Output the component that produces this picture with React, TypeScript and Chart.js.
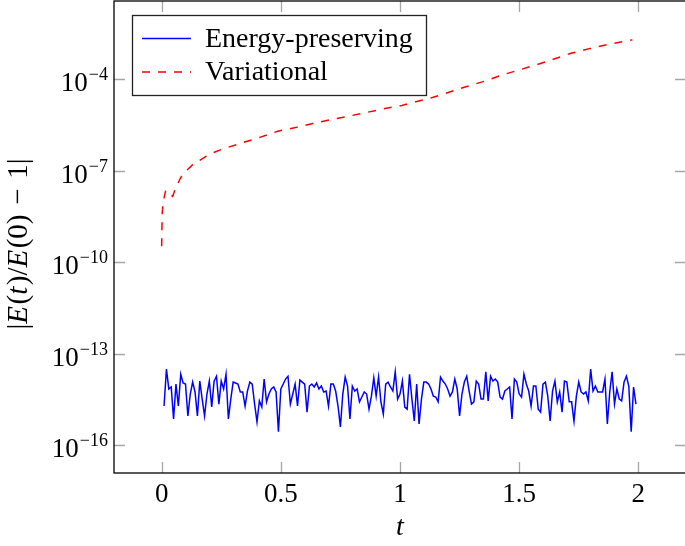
import React, { useEffect, useRef } from 'react';
import { Chart, registerables } from 'chart.js';

Chart.register(...registerables);

// ---------------- data ----------------
const seriesLabels = ['Energy-preserving', 'Variational'];

// energy-preserving scheme: samples every 0.01 starting at t = 0.01
const energyT0 = 0.01;
const energyDt = 0.01;
const energyValues = [
  1.9e-15, 3.1e-14, 6.9e-15, 8.0e-15, 7.1e-16, 1.0e-14, 1.9e-15, 2.1e-14, 1.08e-14, 1.0e-14,
  8.9e-16, 4.7e-15, 1.16e-14, 5.5e-15, 8.9e-16, 1.25e-14, 3.2e-15, 8.9e-16, 4.7e-15, 1.25e-14,
  1.76e-15, 1.25e-14, 1.8e-14, 2.2e-15, 1.25e-14, 6.9e-15, 2.1e-14, 7.1e-16, 3.2e-15, 1.16e-14,
  1.08e-14, 1.0e-14, 5.5e-15, 5.5e-15, 1.9e-15, 5.9e-15, 1.16e-14, 1.0e-14, 2.2e-15, 5.7e-16,
  2.8e-15, 1.76e-15, 1.46e-14, 2.6e-15, 4.7e-15, 6.9e-15, 8.0e-15, 5.5e-15, 2.7e-16, 6.9e-15,
  1.0e-14, 1.46e-14, 1.8e-14, 2.2e-15, 4.7e-15, 1.0e-14, 1.9e-15, 1.35e-14, 1.16e-14, 1.0e-14,
  1.2e-15, 8.6e-15, 1.0e-14, 8.0e-15, 1.08e-14, 6.9e-15, 8.6e-15, 5.5e-15, 5.9e-15, 1.9e-15,
  1.0e-14, 1.0e-14, 5.9e-15, 1.9e-15, 3.9e-16, 4.7e-15, 1.7e-14, 8.6e-15, 7.1e-16, 8.6e-15,
  5.9e-15, 6.9e-15, 2.6e-15, 3.75e-15, 5.5e-15, 4.7e-15, 1.5e-15, 4.0e-15, 1.6e-14, 4.0e-15,
  1.7e-14, 2.6e-15, 1.04e-15, 1.0e-14, 1.16e-14, 8.0e-15, 5.9e-15, 2.5e-14, 3.2e-15, 4.7e-15,
  1.25e-14, 1.76e-15, 1.5e-15, 2.1e-14, 3.2e-15, 6.1e-16, 1.0e-14, 4.9e-16, 3.2e-15, 1.16e-14,
  1.16e-14, 1.0e-14, 6.9e-15, 4.0e-15, 3.75e-15, 2.6e-15, 1.7e-14, 1.25e-14, 1.0e-14, 6.9e-15,
  4.0e-15, 5.5e-15, 1.46e-14, 6.9e-15, 8.9e-16, 4.7e-15, 1.16e-14, 1.8e-14, 5.9e-15, 2.2e-15,
  2.6e-15, 1.25e-14, 1.0e-14, 3.2e-15, 3.2e-15, 2.5e-14, 2.8e-15, 1.8e-14, 1.25e-14, 1.46e-14,
  1.16e-14, 3.75e-15, 3.2e-15, 5.9e-15, 6.9e-15, 8.0e-15, 7.1e-16, 1.46e-14, 1.16e-14, 4.7e-15,
  3.75e-15, 2.1e-14, 1.0e-14, 5.9e-15, 1.9e-15, 8.6e-15, 8.6e-15, 1.5e-15, 1.2e-15, 1.0e-14,
  1.16e-14, 4.0e-15, 6.1e-16, 5.9e-15, 1.25e-14, 2.6e-15, 5.5e-15, 1.2e-15, 1.25e-14, 1.16e-14,
  2.6e-15, 2.6e-15, 6.1e-16, 4.0e-15, 1.16e-14, 5.5e-15, 4.7e-15, 5.5e-15, 2.8e-15, 3.1e-14,
  5.9e-15, 8.6e-15, 5.5e-15, 5.5e-15, 5.5e-15, 1.46e-14, 4.9e-16, 5.5e-15, 2.5e-14, 2.2e-15,
  6.9e-15, 3.2e-15, 2.8e-15, 1.16e-14, 1.8e-14, 8.6e-15, 2.7e-16, 8.0e-15, 2.2e-15,
];

// variational scheme
const variationalT = [
  0, 0.002, 0.006, 0.017, 0.025, 0.046, 0.055, 0.076, 0.088, 0.13,
  0.2, 0.252, 0.328, 0.412, 0.487, 0.567, 0.634, 0.714, 0.782, 0.861,
  0.937, 1.008, 1.071, 1.139, 1.28, 1.366, 1.42, 1.504, 1.576, 1.643,
  1.714, 1.798, 1.87, 1.975,
];
const variationalValues = [
  3.35e-10, 3.7e-9, 9.3e-9, 2.3e-8, 2.0e-8, 1.45e-8, 2.3e-8, 5.2e-8, 7.8e-8, 1.6e-7,
  3.5e-7, 5.1e-7, 7.9e-7, 1.26e-6, 2.0e-6, 2.7e-6, 3.6e-6, 4.9e-6, 6.2e-6, 8.3e-6,
  1.12e-5, 1.41e-5, 1.9e-5, 2.6e-5, 5.9e-5, 9.3e-5, 1.35e-4, 2.1e-4, 3.1e-4, 4.6e-4,
  7.1e-4, 1.05e-3, 1.41e-3, 2.0e-3,
];

const xTicks = [0, 0.5, 1, 1.5, 2];
const xTickLabels = ['0', '0.5', '1', '1.5', '2'];
const yTickExponents = [-4, -7, -10, -13, -16];

const X_MIN = -0.2;
const X_MAX = 2.2;
const Y_MIN = 1.2e-17;
const Y_MAX = 3.78e-2;

// ---------------- styling ----------------
const FONT = '"Liberation Serif", "Times New Roman", serif';
const TICK_SIZE = 27;
const EXP_SIZE = 18;
const LEGEND_SIZE = 28;
const TITLE_SIZE = 29;
const TICK_COLOR = '#a6a6a6';
const TICK_LEN = 11;

const decorPlugin = {
  id: 'decor',
  afterDraw(chart: any) {
    const ctx: any = chart.ctx;
    const { left, right, top, bottom } = chart.chartArea;
    const xs = chart.scales.x;
    const ys = chart.scales.y;
    ctx.save();

    // inward ticks on all four sides
    ctx.strokeStyle = TICK_COLOR;
    ctx.lineWidth = 1.3;
    ctx.beginPath();
    xTicks.forEach((v) => {
      const px = Math.round(xs.getPixelForValue(v)) + 0.5;
      ctx.moveTo(px, bottom);
      ctx.lineTo(px, bottom - TICK_LEN);
      ctx.moveTo(px, top);
      ctx.lineTo(px, top + TICK_LEN);
    });
    yTickExponents.forEach((e) => {
      const py = Math.round(ys.getPixelForValue(Math.pow(10, e))) + 0.5;
      ctx.moveTo(left, py);
      ctx.lineTo(left + TICK_LEN, py);
      ctx.moveTo(right, py);
      ctx.lineTo(right - TICK_LEN, py);
    });
    ctx.stroke();

    // frame
    ctx.strokeStyle = '#000';
    ctx.lineWidth = 1.3;
    ctx.strokeRect(left, top, right - left, bottom - top);

    // x tick labels
    ctx.fillStyle = '#000';
    ctx.font = `${TICK_SIZE}px ${FONT}`;
    ctx.textAlign = 'center';
    ctx.textBaseline = 'alphabetic';
    xTicks.forEach((v, i) => {
      ctx.fillText(xTickLabels[i], xs.getPixelForValue(v), bottom + 29);
    });

    // y tick labels: 10^{e}
    ctx.textAlign = 'left';
    yTickExponents.forEach((e) => {
      const py = ys.getPixelForValue(Math.pow(10, e));
      const expText = '\u2212' + String(Math.abs(e));
      ctx.font = `${EXP_SIZE}px ${FONT}`;
      const wExp = ctx.measureText(expText).width;
      ctx.font = `${TICK_SIZE}px ${FONT}`;
      const wBase = ctx.measureText('10').width;
      const xRight = left - 6;
      const xBase = xRight - wExp - wBase - 1;
      ctx.fillText('10', xBase, py + 12);
      ctx.font = `${EXP_SIZE}px ${FONT}`;
      ctx.fillText(expText, xBase + wBase + 1, py + 1);
    });

    // x title
    ctx.font = `italic ${TICK_SIZE + 1}px ${FONT}`;
    ctx.textAlign = 'center';
    ctx.fillText('t', (left + right) / 2 + 0, bottom + 62);

    // y title (rotated)
    const parts: [string, boolean][] = [
      ['|', false], ['E', true], ['(', false], ['t', true], [')/', false],
      ['E', true], ['(0)\u2004\u2212\u20041|', false],
    ];
    let total = 0;
    const widths = parts.map(([s, it]) => {
      ctx.font = `${it ? 'italic ' : ''}${TITLE_SIZE}px ${FONT}`;
      const w = ctx.measureText(s).width + (it ? 1.5 : 0);
      total += w;
      return w;
    });
    ctx.save();
    ctx.translate(27, 244);
    ctx.rotate(-Math.PI / 2);
    ctx.textAlign = 'left';
    let cx = -total / 2;
    parts.forEach(([s, it], i) => {
      ctx.font = `${it ? 'italic ' : ''}${TITLE_SIZE}px ${FONT}`;
      ctx.fillText(s, cx, 0);
      cx += widths[i];
    });
    ctx.restore();

    // legend
    const lx = 132.5, ly = 15.5, lw = 294, lh = 80;
    ctx.fillStyle = '#fff';
    ctx.fillRect(lx, ly, lw, lh);
    ctx.strokeStyle = '#222';
    ctx.lineWidth = 1.3;
    ctx.strokeRect(lx, ly, lw, lh);
    const ds = chart.data.datasets;
    const rows = [38.5, 72];
    rows.forEach((ry, i) => {
      ctx.strokeStyle = ds[i].borderColor;
      ctx.lineWidth = ds[i].borderWidth;
      ctx.setLineDash(ds[i].borderDash || []);
      ctx.beginPath();
      ctx.moveTo(142, ry);
      ctx.lineTo(191, ry);
      ctx.stroke();
      ctx.setLineDash([]);
      ctx.fillStyle = '#000';
      ctx.font = `${LEGEND_SIZE}px ${FONT}`;
      ctx.textAlign = 'left';
      ctx.fillText(seriesLabels[i], 205, ry + 8);
    });

    ctx.restore();
  },
};

export default function App() {
  const canvasRef = useRef<HTMLCanvasElement | null>(null);

  useEffect(() => {
    const canvas = canvasRef.current;
    if (!canvas) return;
    const energyData = energyValues.map((v, i) => ({ x: energyT0 + i * energyDt, y: v }));
    const variationalData = variationalValues.map((v, i) => ({ x: variationalT[i], y: v }));
    const chart = new Chart(canvas, {
      type: 'line',
      data: {
        datasets: [
          {
            label: seriesLabels[0],
            data: energyData,
            borderColor: '#0000ff',
            borderWidth: 1.5,
            pointRadius: 0,
            tension: 0,
            fill: false,
          },
          {
            label: seriesLabels[1],
            data: variationalData,
            borderColor: '#ff0000',
            borderWidth: 1.5,
            borderDash: [8, 8],
            pointRadius: 0,
            tension: 0,
            fill: false,
          },
        ],
      },
      options: {
        animation: false,
        responsive: false,
        devicePixelRatio: 1,
        parsing: false as any,
        layout: { padding: { left: 114, top: 1, right: 14, bottom: 73 } },
        plugins: {
          legend: { display: false },
          tooltip: { enabled: false },
          title: { display: false },
        },
        scales: {
          x: {
            type: 'linear',
            display: false,
            min: X_MIN,
            max: X_MAX,
          },
          y: {
            type: 'logarithmic',
            display: false,
            min: Y_MIN,
            max: Y_MAX,
          },
        },
      },
      plugins: [decorPlugin],
    });
    return () => chart.destroy();
  }, []);

  return (
    <div
      style={{
        position: 'fixed',
        left: 0,
        top: 0,
        width: 685,
        height: 546,
        overflow: 'hidden',
        background: '#fff',
      }}
    >
      <canvas ref={canvasRef} width={700} height={546} style={{ display: 'block' }} />
    </div>
  );
}
